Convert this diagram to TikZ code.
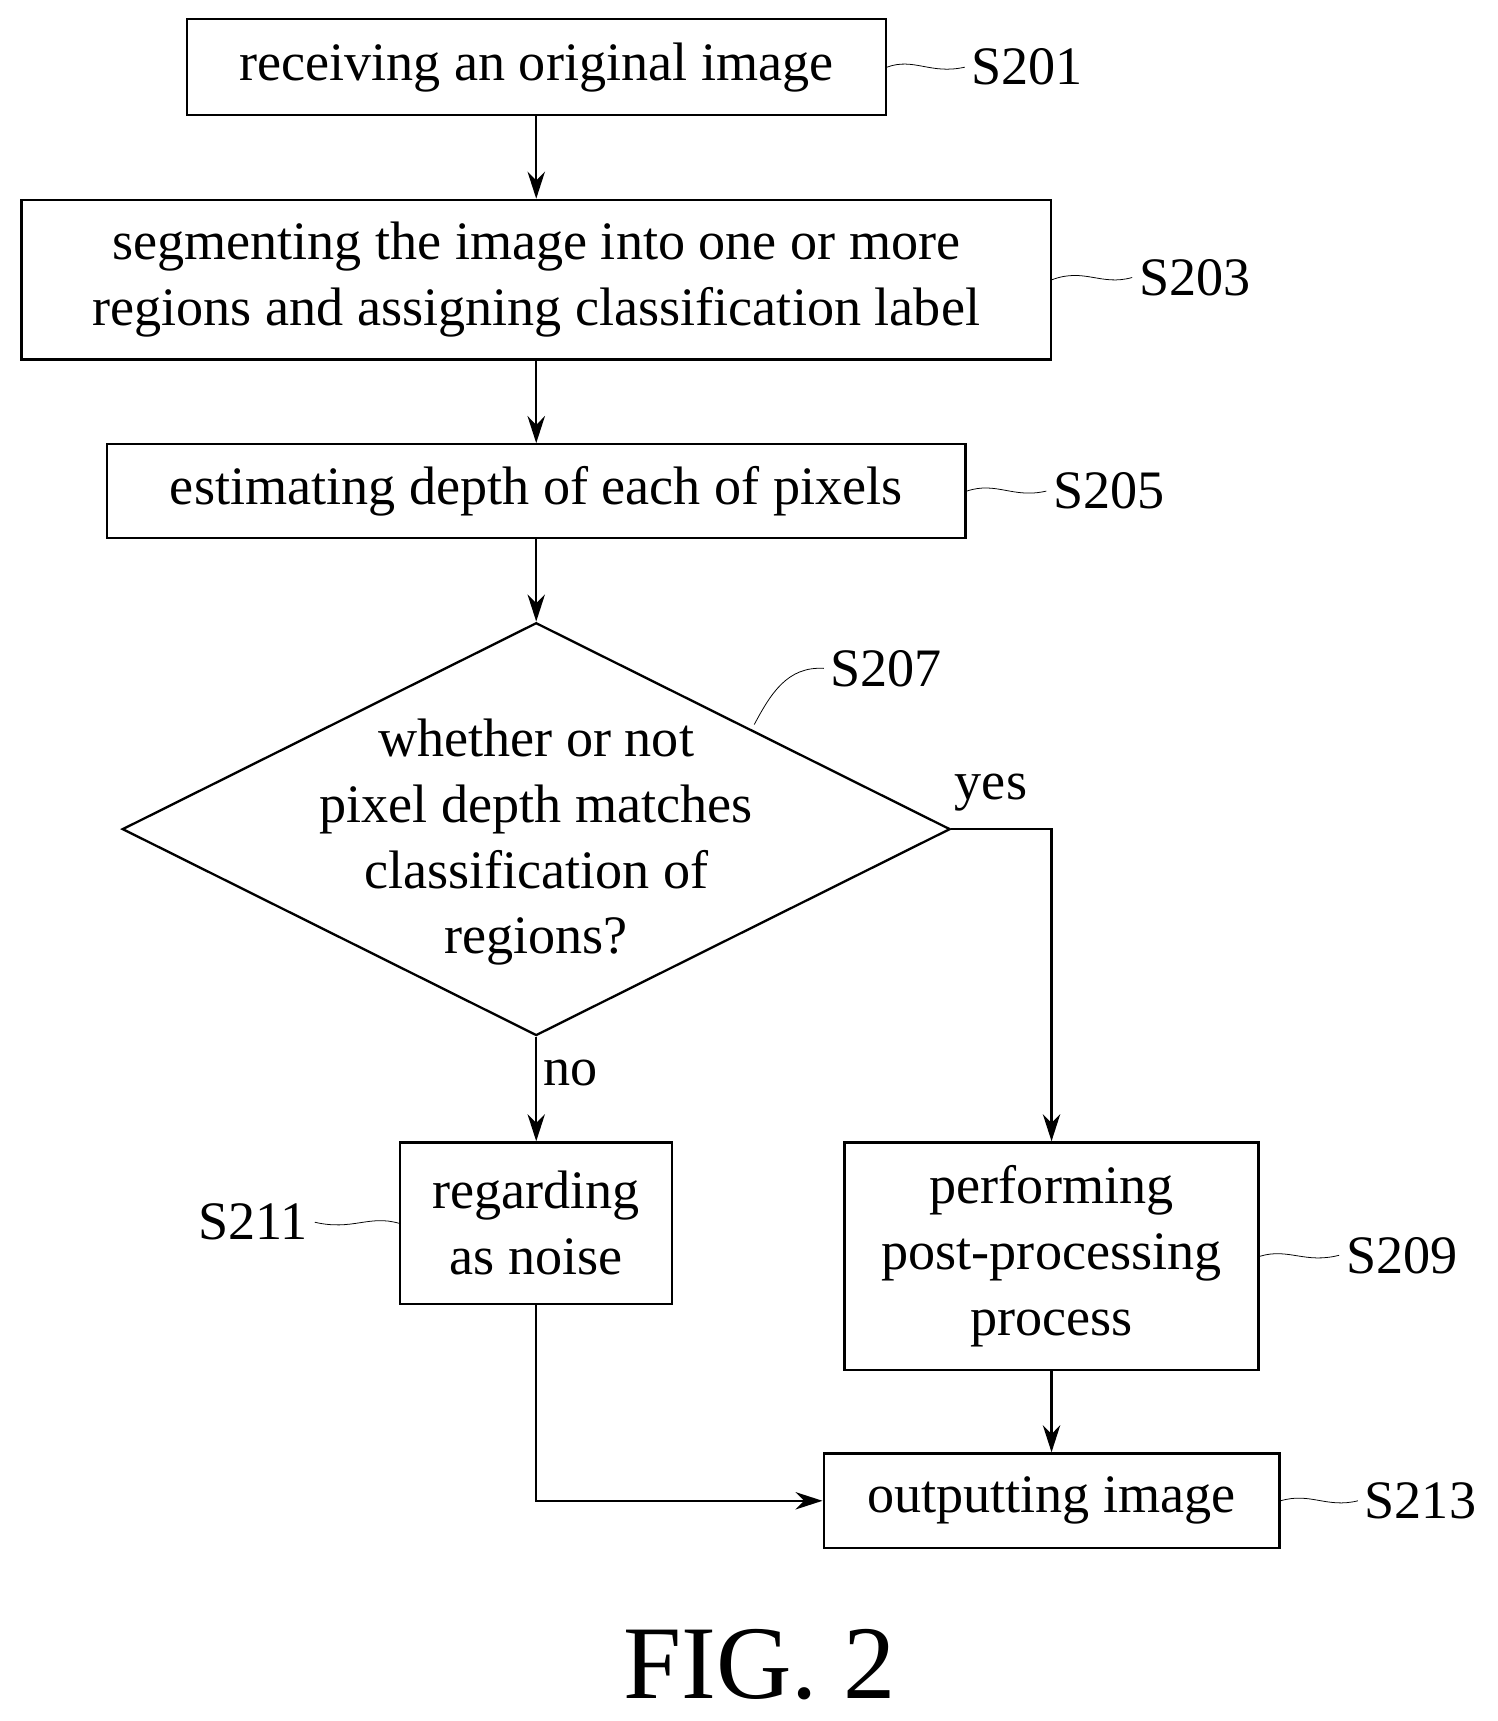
\documentclass[tikz,border=0pt]{standalone}
\usepackage{fontspec}
\setmainfont{Liberation Serif}
\usetikzlibrary{shapes.geometric,arrows.meta}

\tikzset{
  procbox/.style={draw, line width=1.2pt, inner sep=0pt, align=center},
  flow/.style={line width=1.2pt, -{Stealth[length=14pt,width=9pt]}},
  tag/.style={thin}
}

\begin{document}
\begin{tikzpicture}[x=0.02cm, y=-0.02cm, font=\fontsize{28}{34}\selectfont]

\useasboundingbox (0,0) rectangle (1360,1563);

\node [procbox, minimum width=12.7cm, minimum height=1.74cm] (s201) at (487,61) {receiving an original image};
\node [procbox, minimum width=18.7cm, minimum height=2.9cm] (s203) at (487,254) {segmenting the image into one or more\\regions and assigning classification label};
\node [procbox, minimum width=15.6cm, minimum height=1.7cm] (s205) at (487,446) {estimating depth of each of pixels};
\node [draw, line width=1.2pt, diamond, inner sep=0pt, minimum width=15.04cm, minimum height=7.5cm] (s207) at (487,753) {};
\node [align=center] at (487,765) {whether or not\\pixel depth matches\\classification of\\regions?};
\node [procbox, minimum width=4.94cm, minimum height=2.94cm] (s211) at (487,1111) {regarding\\as noise};
\node [procbox, minimum width=7.52cm, minimum height=4.14cm] (s209) at (955,1141) {performing\\post-processing\\process};
\node [procbox, minimum width=8.28cm, minimum height=1.72cm] (s213) at (955,1363) {outputting image};

% arrows
\draw [flow] (s201) -- (s203);
\draw [flow] (s203) -- (s205);
\draw [flow] (s205) -- (s207);
\draw [flow] (s207.south) -- node [right, pos=0.35] {no} (s211);
\draw [flow] (s207.east) -| (s209);
\draw [flow] (s209) -- (s213);
\draw [flow] (s211.south) |- (s213.west);
\node at (900,720) {yes};

% step labels
\node (l201) at (933,61) {S201};
\node (l203) at (1085,252) {S203};
\node (l205) at (1007,446) {S205};
\node (l207) at (805,607) {S207};
\node (l211) at (230,1110) {S211};
\node (l209) at (1273,1140) {S209};
\node (l213) at (1290,1363) {S213};
\draw [tag] (s201.east) .. controls (830,52) and (845,68) .. (l201.west);
\draw [tag] (s203.east) .. controls (985,243) and (1000,260) .. (l203.west);
\draw [tag] (s205.east) .. controls (905,437) and (920,453) .. (l205.west);
\draw [tag] (685,658) .. controls (700,630) and (715,605) .. (l207.west);
\draw [tag] (s211.west) .. controls (335,1103) and (320,1118) .. (l211.east);
\draw [tag] (s209.east) .. controls (1170,1133) and (1185,1148) .. (l209.west);
\draw [tag] (s213.east) .. controls (1190,1355) and (1205,1370) .. (l213.west);

\node [font=\fontsize{54}{60}\selectfont] (fig) at (690,1512) {FIG. 2};

\end{tikzpicture}
\end{document}
